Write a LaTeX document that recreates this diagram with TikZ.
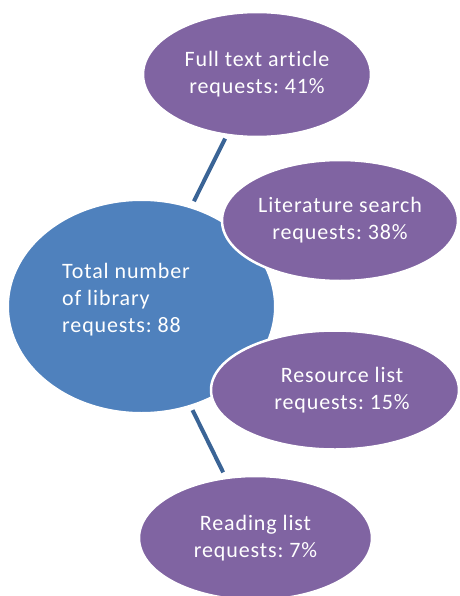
\documentclass[tikz,border=0pt]{standalone}
\usepackage{fontspec}
\setmainfont{Carlito}[Ligatures=NoCommon, LetterSpace=4]
\usetikzlibrary{shapes.geometric}
\definecolor{hubblue}{HTML}{4F81BD}
\definecolor{leafpurple}{HTML}{8064A2}
\definecolor{linkblue}{HTML}{3A6496}
\frenchspacing
\begin{document}
\begin{tikzpicture}[x=1pt,y=-1pt,
  hub/.style={ellipse, fill=hubblue, draw=white, line width=2pt, inner sep=0pt},
  leaf/.style={ellipse, fill=leafpurple, draw=white, line width=2.5pt, inner sep=0pt,
    minimum width=236pt, minimum height=122pt},
  caption/.style={text=white, font=\fontsize{22}{27}\selectfont, inner sep=0pt},
  link/.style={draw=linkblue, line width=4pt}]
\useasboundingbox (0,0) rectangle (459,596);
% central ellipse
\node[hub, minimum width=267pt, minimum height=213pt] (hub) at (141.5,306.5) {};
\node[caption, anchor=west, align=left] (hubtext) at (62,300)
  {Total number\\of library\\requests: 88};
% connectors (under the leaves)
\node[leaf, draw=none, fill=none, minimum width=228pt, minimum height=125pt] (fullpos) at (257,74.5) {};
\node[leaf, draw=none, fill=none, minimum width=233pt, minimum height=124pt] (readpos) at (255.5,538) {};
\draw[link, shorten <=6pt, shorten >=3pt] (hub) -- (fullpos);
\draw[link, shorten <=4pt, shorten >=5pt] (hub) -- (readpos);
% leaves
\node[leaf, minimum width=228pt, minimum height=125pt] (full) at (257,74.5) {};
\node[leaf, minimum width=236pt, minimum height=121pt] (lit) at (340,220.5) {};
\node[leaf, minimum width=248pt, minimum height=119pt] (res) at (335,390) {};
\node[leaf, minimum width=233pt, minimum height=124pt] (read) at (255.5,538) {};
\node[caption, align=center] (fulltext) at (full.center) {Full text article\\requests: 41\%};
\node[caption, align=center] (littext) at (lit.center) {Literature search\\requests: 38\%};
\node[caption, align=center] (restext) at ([xshift=7pt]res.center) {Resource list\\requests: 15\%};
\node[caption, align=center] (readtext) at (read.center) {Reading list\\requests: 7\%};
\end{tikzpicture}
\end{document}
